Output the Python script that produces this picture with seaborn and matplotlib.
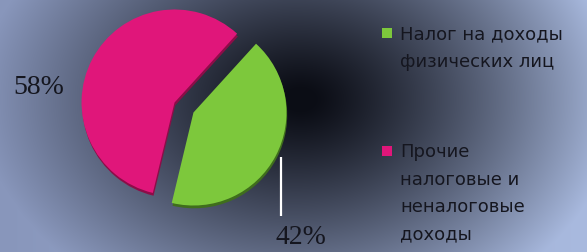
import numpy as np
import matplotlib
matplotlib.use("Agg")
import matplotlib.pyplot as plt
import seaborn as sns
from matplotlib.patches import Rectangle

# ---- data ----
categories = ["Налог на доходы физических лиц", "Прочие налоговые и неналоговые доходы"]
legend_labels = ["Налог на доходы\nфизических лиц", "Прочие\nналоговые и\nненалоговые\nдоходы"]
values = [42, 58]
colors = ["#7dc83c", "#e0167a"]
rim_colors = ["#3f6e1c", "#8c0d48"]

sns.set_theme(style="white")
plt.rcParams["font.family"] = ["DejaVu Sans"]

W, H, DPI = 587, 253, 100
fig = plt.figure(figsize=(W / DPI, H / DPI), dpi=DPI)

# ---- background radial gradient ----
bg = fig.add_axes([0, 0, 1, 1])
yy, xx = np.mgrid[0:H, 0:W].astype(float)
cx, cy, rx, ry = 300.0, 100.0, 340.0, 250.0
r = np.sqrt(((xx - cx) / rx) ** 2 + ((yy - cy) / ry) ** 2)
f = np.clip((r - 0.04) / 0.9, 0, 1) ** 1.15
left_c = np.array([0x88, 0x96, 0xbb]) / 255
right_c = np.array([0xa9, 0xba, 0xdf]) / 255
dark = np.array([0x0b, 0x0d, 0x15]) / 255
t = (xx / W)[..., None]
outer = left_c * (1 - t) + right_c * t
img = dark + (outer - dark) * f[..., None]
bg.imshow(np.clip(img, 0, 1), extent=[0, W, H, 0], aspect="auto", interpolation="bilinear")
bg.set_axis_off()

# ---- pie axes (1 unit = S px, center at pixel (185,108.5)) ----
S = 93.0
PCX, PCY = 184.0, 108.5
ax = fig.add_axes([0, 0, 1, 1])
ax.set_facecolor("none")

explode = [0.115, 0.115]
# 3D rim (depth) under the pie
ax.pie(values, colors=rim_colors, explode=explode, startangle=-103.5,
       counterclock=True, radius=1.0, center=(0.008, -0.03),
       wedgeprops=dict(linewidth=0), frame=True)
wedges, _ = ax.pie(values, colors=colors, explode=explode, startangle=-103.5,
                   counterclock=True, radius=1.0, center=(0, 0),
                   wedgeprops=dict(linewidth=0), frame=True)
ax.set_xlim(-PCX / S, (W - PCX) / S)
ax.set_ylim(-(H - PCY) / S, PCY / S)
ax.set_axis_off()

def px(x, y):
    return ((x - PCX) / S, (PCY - y) / S)

pct_labels = [f"{v:.0f}%" for v in values]
# 42% label with white leader line
x0, y0 = px(281, 158)
x1, y1 = px(281, 217)
ax.plot([x0, x1], [y0, y1], color="white", lw=1.6, solid_capstyle="butt")
ax.text(*px(275, 238), pct_labels[0], family="Liberation Serif", fontsize=20,
        color="#15161f", ha="left", va="center")
ax.text(*px(13, 88), pct_labels[1], family="Liberation Serif", fontsize=20,
        color="#15161f", ha="left", va="center")

# ---- legend ----
sq = 10
entries_top = [34, 152]
for lab, col, yc in zip(legend_labels, colors, entries_top):
    fig.patches.append(Rectangle((382 / W, (H - yc - 5) / H), sq / W, sq / H,
                                 transform=fig.transFigure, facecolor=col,
                                 edgecolor="none"))
    fig.text(400 / W, (H - yc + 9) / H, lab, fontsize=13, color="#15161f",
             ha="left", va="top", linespacing=1.68)

fig.savefig("out.png", dpi=DPI)
